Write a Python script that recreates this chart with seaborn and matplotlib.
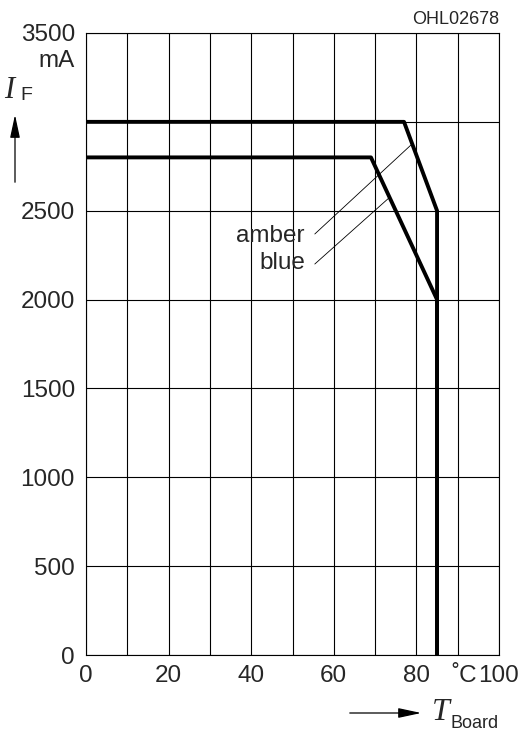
import numpy as np
import pandas as pd
import seaborn as sns
import matplotlib.pyplot as plt

# derating curves (T_Board in degC, I_F in mA)
amber_t = [0, 77, 85, 85]
amber_i = [3000, 3000, 2500, 0]
blue_t = [0, 69, 85, 85]
blue_i = [2800, 2800, 2000, 0]

x_ticks = [0, 20, 40, 60, 80, 100]
y_ticks = [0, 500, 1000, 1500, 2000, 2500, 3500]

sns.set_style("white")
plt.rcParams['font.family'] = ['Liberation Sans', 'DejaVu Sans']

df = pd.concat([
    pd.DataFrame({"T": amber_t, "I": amber_i, "color": "amber"}),
    pd.DataFrame({"T": blue_t, "I": blue_i, "color": "blue"}),
])

W, H = 525, 733
fig = plt.figure(figsize=(W / 100, H / 100), dpi=100)
ax = fig.add_axes([86 / W, 78 / H, 413 / W, 622 / H])

def fx(px):
    return px / W

def fy(py):
    return 1 - py / H

# grid
for x in range(0, 101, 10):
    ax.axvline(x, color="black", lw=0.8, zorder=1)
for y in range(0, 3501, 500):
    ax.axhline(y, color="black", lw=0.8, zorder=1)

sns.lineplot(data=df, x="T", y="I", units="color", estimator=None, sort=False,
             color="black", lw=2.8, ax=ax, zorder=3)

ax.set_xlim(0, 100)
ax.set_ylim(0, 3500)
ax.set_xticks(x_ticks)
ax.set_yticks(y_ticks)
ax.tick_params(length=0, labelsize=17.5)
ax.tick_params(axis="x", pad=7)
ax.tick_params(axis="y", pad=8)
ax.set_xlabel("")
ax.set_ylabel("")
for s in ax.spines.values():
    s.set_linewidth(0.8)
    s.set_color("black")

# leader lines + labels
ax.plot([55.4, 78.7], [2369, 2870], color="black", lw=0.6, zorder=2)
ax.plot([55.4, 73.6], [2200, 2577], color="black", lw=0.6, zorder=2)
ax.text(53.0, 2325, "amber", ha="right", va="baseline", fontsize=17.5)
ax.text(53.0, 2170, "blue", ha="right", va="baseline", fontsize=17.5)

fig.text(fx(464), fy(676), "˚C", ha="center", va="center", fontsize=17.5)

fig.text(fx(499), fy(19), "OHL02678", ha="right", va="center", fontsize=13)
fig.text(fx(75), fy(61), "mA", ha="right", va="center", fontsize=17.5)
fig.text(fx(4), fy(91), "I", ha="left", va="center", fontsize=22,
         family="Liberation Serif", style="italic")
fig.text(fx(20), fy(96), "F", ha="left", va="center", fontsize=14)
arrow = dict(arrowstyle="-|>,head_length=1.4,head_width=0.3", color="black", lw=0.9)
ax.annotate("", xy=(fx(15), fy(112)), xytext=(fx(15), fy(185)),
            xycoords="figure fraction", textcoords="figure fraction",
            arrowprops=arrow, annotation_clip=False)
ax.annotate("", xy=(fx(424), fy(713)), xytext=(fx(347), fy(713)),
            xycoords="figure fraction", textcoords="figure fraction",
            arrowprops=arrow, annotation_clip=False)
fig.text(fx(432), fy(712), "T", ha="left", va="center", fontsize=23,
         family="Liberation Serif", style="italic")
fig.text(fx(451), fy(724), "Board", ha="left", va="center", fontsize=13)

fig.savefig("out.png", dpi=100)
